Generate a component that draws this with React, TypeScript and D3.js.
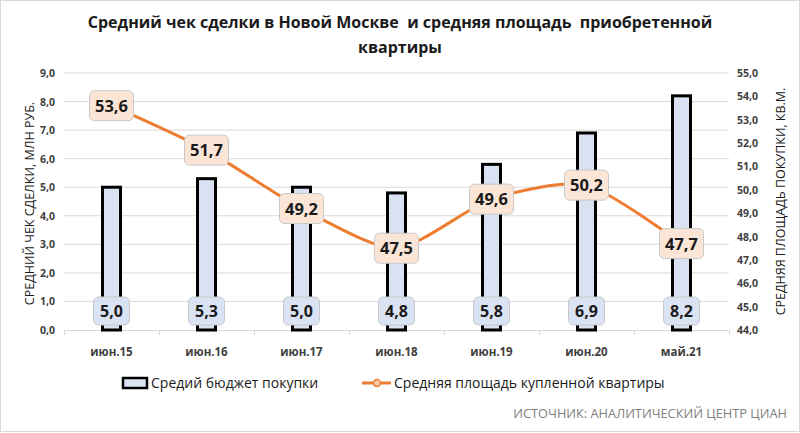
import * as d3 from 'd3';
import { useEffect, useRef } from 'react';

const categories = ['июн.15', 'июн.16', 'июн.17', 'июн.18', 'июн.19', 'июн.20', 'май.21'];
const budget = [5.0, 5.3, 5.0, 4.8, 5.8, 6.9, 8.2];
const area = [53.6, 51.7, 49.2, 47.5, 49.6, 50.2, 47.7];
const leftTicks = [0, 1, 2, 3, 4, 5, 6, 7, 8, 9];
const rightTicks = [44, 45, 46, 47, 48, 49, 50, 51, 52, 53, 54, 55];

const W = 800;
const H = 433;
const FONT = '"Open Sans", "Noto Sans", sans-serif';
const fmt = (v: number) => v.toFixed(1).replace('.', ',');

function App() {
    const ref = useRef<SVGSVGElement>(null);

    useEffect(() => {
        const svg = d3.select(ref.current);
        svg.selectAll('*').remove();

        const m = { left: 64, right: 729, top: 73, bottom: 330 };

        // рамка
        svg.append('rect')
            .attr('x', 0.5).attr('y', 0.5)
            .attr('width', W - 1).attr('height', H - 2)
            .attr('fill', 'white').attr('stroke', '#d9d9d9');

        // заголовок
        const title = svg.append('text')
            .attr('text-anchor', 'middle')
            .attr('font-family', FONT)
            .attr('font-weight', 'bold')
            .attr('font-size', 16)
            .attr('fill', '#1a1a1a')
            .style('white-space', 'pre');
        title.append('tspan').attr('x', 400).attr('y', 28)
            .text('Средний чек сделки в Новой Москве  и средняя площадь  приобретенной');
        title.append('tspan').attr('x', 400).attr('y', 53).text('квартиры');

        const x = d3.scaleBand().domain(categories).range([m.left, m.right]);
        const yL = d3.scaleLinear().domain([0, 9]).range([m.bottom, m.top]);
        const yR = d3.scaleLinear().domain([44, 55]).range([m.bottom, m.top]);

        // сетка
        svg.append('g').selectAll('line')
            .data(leftTicks.slice(1))
            .join('line')
            .attr('x1', m.left).attr('x2', m.right)
            .attr('y1', d => yL(d)).attr('y2', d => yL(d))
            .attr('stroke', '#d9d9d9').attr('stroke-width', 1);

        // левая ось
        svg.append('g').selectAll('text')
            .data(leftTicks)
            .join('text')
            .attr('x', 55).attr('y', d => yL(d) + 4)
            .attr('text-anchor', 'end')
            .attr('font-family', FONT).attr('font-weight', 'bold').attr('font-size', 10.5)
            .attr('fill', '#404040')
            .text(d => fmt(d));

        // правая ось
        svg.append('g').selectAll('text')
            .data(rightTicks)
            .join('text')
            .attr('x', 737).attr('y', d => yR(d) + 4)
            .attr('text-anchor', 'start')
            .attr('font-family', FONT).attr('font-weight', 'bold').attr('font-size', 10.5)
            .attr('fill', '#404040')
            .text(d => fmt(d));

        // подписи осей
        svg.append('text')
            .attr('transform', `translate(34,${(m.top + m.bottom) / 2 + 2}) rotate(-90)`)
            .attr('text-anchor', 'middle')
            .attr('font-family', FONT).attr('font-size', 12.5).attr('fill', '#1a1a1a')
            .text('СРЕДНИЙ ЧЕК СДЕЛКИ, МЛН РУБ.');
        svg.append('text')
            .attr('transform', `translate(785,${(m.top + m.bottom) / 2}) rotate(-90)`)
            .attr('text-anchor', 'middle')
            .attr('font-family', FONT).attr('font-size', 12.5).attr('fill', '#1a1a1a')
            .text('СРЕДНЯЯ ПЛОЩАДЬ ПОКУПКИ, КВ.М.');

        // ось X
        svg.append('line')
            .attr('x1', m.left).attr('x2', m.right)
            .attr('y1', m.bottom + 0.5).attr('y2', m.bottom + 0.5)
            .attr('stroke', '#d9d9d9');
        const bounds = categories.map(c => x(c) as number).concat([m.right]);
        svg.append('g').selectAll('line')
            .data(bounds)
            .join('line')
            .attr('x1', d => d + 0.5).attr('x2', d => d + 0.5)
            .attr('y1', m.bottom).attr('y2', m.bottom + 5)
            .attr('stroke', '#d9d9d9');
        svg.append('g').selectAll('text')
            .data(categories)
            .join('text')
            .attr('x', d => (x(d) as number) + x.bandwidth() / 2)
            .attr('y', 356)
            .attr('text-anchor', 'middle')
            .attr('font-family', FONT).attr('font-weight', 'bold').attr('font-size', 11.5)
            .attr('fill', '#404040')
            .text(d => d);

        // столбцы
        const bw = 18;
        svg.append('g').selectAll('rect')
            .data(budget)
            .join('rect')
            .attr('x', (d, i) => (x(categories[i]) as number) + x.bandwidth() / 2 - bw / 2)
            .attr('y', d => yL(d))
            .attr('width', bw)
            .attr('height', d => m.bottom - yL(d))
            .attr('fill', '#d9e1f2')
            .attr('stroke', '#000').attr('stroke-width', 3);

        // линия
        const line = d3.line<number>()
            .x((d, i) => (x(categories[i]) as number) + x.bandwidth() / 2)
            .y(d => yR(d))
            .curve(d3.curveCardinal.tension(0.3));
        svg.append('path')
            .datum(area)
            .attr('d', line)
            .attr('fill', 'none')
            .attr('stroke', '#ed7d31')
            .attr('stroke-width', 3)
            .attr('stroke-linecap', 'round');

        // подписи столбцов
        const bl = svg.append('g').selectAll('g')
            .data(budget)
            .join('g')
            .attr('transform', (d, i) => `translate(${(x(categories[i]) as number) + x.bandwidth() / 2},311)`);
        bl.append('rect')
            .attr('x', -18).attr('y', -14).attr('width', 36).attr('height', 28)
            .attr('rx', 5)
            .attr('fill', '#dae3f3').attr('stroke', '#c8c8c8').attr('stroke-width', 1);
        bl.append('text')
            .attr('text-anchor', 'middle').attr('y', 6)
            .attr('font-family', FONT).attr('font-weight', 'bold').attr('font-size', 16)
            .attr('fill', '#1a1a1a')
            .text(d => fmt(d));

        // подписи линии
        const ll = svg.append('g').selectAll('g')
            .data(area)
            .join('g')
            .attr('transform', (d, i) => `translate(${(x(categories[i]) as number) + x.bandwidth() / 2},${yR(d)})`);
        ll.append('rect')
            .attr('x', -22).attr('y', -15).attr('width', 44).attr('height', 30)
            .attr('rx', 5)
            .attr('fill', '#fbe5d6').attr('stroke', '#c8c8c8').attr('stroke-width', 1);
        ll.append('text')
            .attr('text-anchor', 'middle').attr('y', 6)
            .attr('font-family', FONT).attr('font-weight', 'bold').attr('font-size', 16.5)
            .attr('fill', '#1a1a1a')
            .text(d => fmt(d));

        // легенда
        const lg = svg.append('g').attr('font-family', FONT).attr('font-size', 14).attr('fill', '#1a1a1a');
        lg.append('rect')
            .attr('x', 123).attr('y', 378).attr('width', 24).attr('height', 10)
            .attr('fill', '#d9e1f2').attr('stroke', '#000').attr('stroke-width', 2.5);
        lg.append('text').attr('x', 151).attr('y', 388).text('Средий бюджет покупки');
        lg.append('line')
            .attr('x1', 362).attr('x2', 391).attr('y1', 383).attr('y2', 383)
            .attr('stroke', '#ed7d31').attr('stroke-width', 3);
        lg.append('circle')
            .attr('cx', 377).attr('cy', 383).attr('r', 3.5)
            .attr('fill', '#f8cbad').attr('stroke', '#ed7d31').attr('stroke-width', 1.5);
        lg.append('text').attr('x', 394).attr('y', 388).text('Средняя площадь купленной квартиры');

        // источник
        svg.append('text')
            .attr('x', 787).attr('y', 418)
            .attr('text-anchor', 'end')
            .attr('font-family', FONT).attr('font-size', 12.8).attr('fill', '#808080')
            .text('ИСТОЧНИК: АНАЛИТИЧЕСКИЙ ЦЕНТР ЦИАН');
    }, []);

    return (
        <svg ref={ref} width={W} height={H}
            style={{ position: 'absolute', left: 0, top: 0, display: 'block' }} />
    );
}

export default App;
